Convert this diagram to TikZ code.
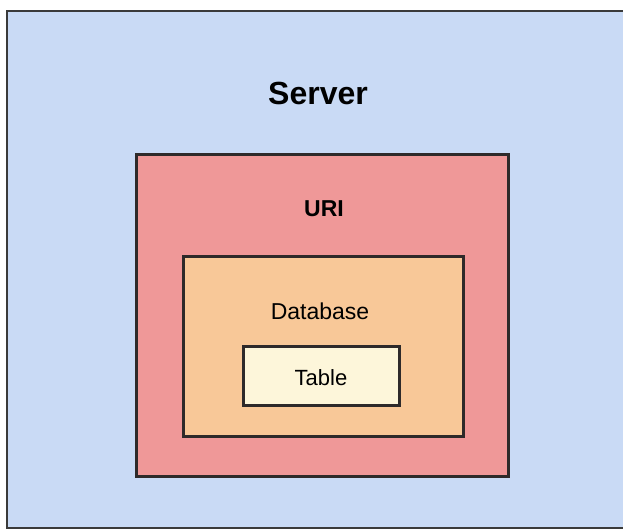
\documentclass[tikz,border=0pt]{standalone}
\usepackage{fontspec}
\setmainfont{Liberation Sans}
\definecolor{serverbg}{HTML}{C9DAF5}
\definecolor{uribg}{HTML}{EF9898}
\definecolor{dbbg}{HTML}{F8C898}
\definecolor{tablebg}{HTML}{FDF6DA}
\definecolor{edge}{HTML}{2E2A2A}
\definecolor{outeredge}{HTML}{3A3A3A}
\begin{document}
\begin{tikzpicture}[x=1pt,y=-1pt,
  box/.style={draw=edge,line width=3pt},
  lbl/.style={anchor=base,inner sep=0pt,text=black}]
\useasboundingbox (0,0) rectangle (623,529);
\fill[white] (0,0) rectangle (623,529);
\fill[serverbg] (7,11) rectangle (623,528);
\draw[outeredge,line width=2pt] (623,11) -- (7,11) -- (7,528) -- (623,528);
\node[lbl,font=\fontsize{32}{36}\selectfont\bfseries] (server) at (318,105) {Server};
\draw[box,fill=uribg] (136,155) rectangle (508,476);
\node[lbl,font=\fontsize{23}{26}\selectfont\bfseries] (uri) at (324,216.5) {URI};
\draw[box,fill=dbbg] (183,256) rectangle (463,436);
\node[lbl,font=\fontsize{23}{26}\selectfont] (db) at (320,319) {Database};
\draw[box,fill=tablebg] (243,346) rectangle (399,405);
\node[lbl,font=\fontsize{22}{25}\selectfont] (table) at (321,385) {Table};
\end{tikzpicture}
\end{document}
